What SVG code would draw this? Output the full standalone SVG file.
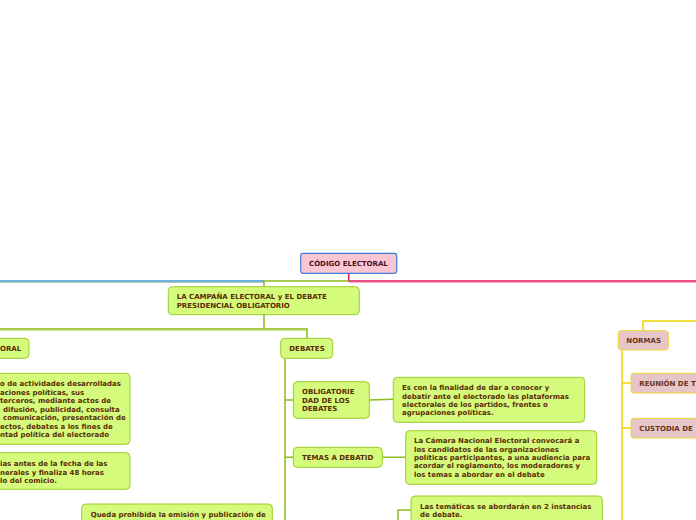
<svg xmlns="http://www.w3.org/2000/svg" width="696" height="520" viewBox="0 0 696 520">
<style>
text{font-family:"DejaVu Sans","Liberation Sans",sans-serif;font-size:7px;font-weight:bold;fill:#5b2c06}
.g{fill:#d4fb7b;stroke:#9ccb2c;stroke-width:1}
.p{fill:#e6c6c9;stroke:#efd62a;stroke-width:1}
.root{fill:#f9c6d2;stroke:#3f7fd6;stroke-width:1.2}
.rt{fill:#4e0f24}
.pt{fill:#6b3418}
.lg{fill:none;stroke:#8cbc1a;stroke-width:1.5}
.lgs{fill:none;stroke:#d8eeb0;stroke-width:1.5}
.ly{fill:none;stroke:#efd400;stroke-width:1.5}
.lr{fill:none;stroke:#e8175d;stroke-width:1.5}
.lrs{fill:none;stroke:#f7b0c4;stroke-width:1.2}
.lb{fill:none;stroke:#3a9ad0;stroke-width:1.5}
.lbs{fill:none;stroke:#b9c9b0;stroke-width:1.2}
</style>
<rect width="696" height="520" fill="#ffffff"/>
<g id="connectors">
<path class="lrs" d="M349 282.5H696"/>
<path class="lr" d="M348.7 273.3V281H696"/>
<path class="lbs" d="M0 282.5H264"/>
<path class="lb" d="M0 281H264"/>
<path class="lg" d="M348.7 281H264V286.7"/>
<path class="lgs" d="M0 330.5H307"/>
<path class="lg" d="M264 314.7V329M0 329H307V338.3"/>
<path class="lg" d="M285 358.3V520M285 400H293.3M285 457.3H293.3"/>
<path class="lg" d="M369.3 400L393.3 399.3M382.3 457.3H405.7"/>
<path class="lg" d="M398 520V510H411"/>
<path class="ly" d="M643 330.7V321H696"/>
<path class="ly" d="M622 350V520M622 383H631M622 428H631"/>
</g>
<g id="n-root">
<rect class="root" x="300.7" y="253.3" width="96" height="20" rx="2.5"/>
<text class="rt" x="309" y="265.7">CÓDIGO ELECTORAL</text>
</g>
<g id="n-main">
<rect class="g" x="168.3" y="286.7" width="191" height="28" rx="4"/>
<text x="176.7" y="299.3">LA CAMPAÑA ELECTORAL y EL DEBATE</text>
<text x="176.7" y="308">PRESIDENCIAL OBLIGATORIO</text>
</g>
<g id="n-campana">
<rect class="g" x="-20" y="338.3" width="49" height="20" rx="4"/>
<text x="0" y="351">ORAL</text>
</g>
<g id="n-def">
<rect class="g" x="-20" y="373.3" width="150" height="71" rx="4"/>
<text x="0" y="386">o de actividades desarrolladas</text>
<text x="0" y="394.7">aciones políticas, sus</text>
<text x="0" y="403.2">terceros, mediante actos de</text>
<text x="3" y="411.8">difusión, publicidad, consulta</text>
<text x="3" y="420.3">comunicación, presentación de</text>
<text x="0" y="429">ectos, debates a los fines de</text>
<text x="0" y="437.3">ntad política del electorado</text>
</g>
<g id="n-inicio">
<rect class="g" x="-20" y="452.7" width="150" height="36.6" rx="4"/>
<text x="0" y="466">ias antes de la fecha de las</text>
<text x="0" y="474.7">nerales y finaliza 48 horas</text>
<text x="0" y="483">lo del comicio.</text>
</g>
<g id="n-queda">
<rect class="g" x="81.7" y="504" width="190.6" height="30" rx="4"/>
<text x="90.7" y="516.7">Queda prohibida la emisión y publicación de</text>
</g>
<g id="n-debates">
<rect class="g" x="280.7" y="338.3" width="52" height="20" rx="4"/>
<text x="289.3" y="351">DEBATES</text>
</g>
<g id="n-oblig">
<rect class="g" x="293.3" y="381.7" width="76" height="36.6" rx="4"/>
<text x="302" y="394.3">OBLIGATORIE</text>
<text x="302" y="403.2">DAD DE LOS</text>
<text x="302" y="411.2">DEBATES</text>
</g>
<g id="n-oblig-desc">
<rect class="g" x="393.3" y="377.3" width="191.4" height="45" rx="4"/>
<text x="402" y="390">Es con la finalidad de dar a conocer y</text>
<text x="402" y="398.5">debatir ante el electorado las plataformas</text>
<text x="402" y="406.8">electorales de los partidos, frentes o</text>
<text x="402" y="415.2">agrupaciones políticas.</text>
</g>
<g id="n-temas">
<rect class="g" x="293.3" y="447.3" width="89" height="20" rx="4"/>
<text x="302" y="460">TEMAS A DEBATID</text>
</g>
<g id="n-camara">
<rect class="g" x="405.7" y="430.7" width="191" height="53.6" rx="4"/>
<text x="414" y="443.3">La Cámara Nacional Electoral convocará a</text>
<text x="414" y="451.7">los candidatos de las organizaciones</text>
<text x="414" y="459.8">políticas participantes, a una audiencia para</text>
<text x="414" y="468.3">acordar el reglamento, los moderadores y</text>
<text x="414" y="476.7">los temas a abordar en el debate</text>
</g>
<g id="n-tematicas">
<rect class="g" x="411" y="496" width="191.3" height="40" rx="4"/>
<text x="420" y="508.7">Las temáticas se abordarán en 2 instancias</text>
<text x="420" y="516.8">de debate.</text>
</g>
<g id="n-normas">
<rect class="p" x="618.3" y="330.7" width="50" height="19.3" rx="3"/>
<text class="pt" x="626.3" y="343.3">NORMAS</text>
</g>
<g id="n-reunion">
<rect class="p" x="631" y="373.3" width="80" height="19.7" rx="3"/>
<text class="pt" x="639.3" y="386">REUNIÓN DE T</text>
</g>
<g id="n-custodia">
<rect class="p" x="631" y="418.3" width="80" height="19.7" rx="3"/>
<text class="pt" x="639.3" y="431">CUSTODIA DE</text>
</g>
</svg>
